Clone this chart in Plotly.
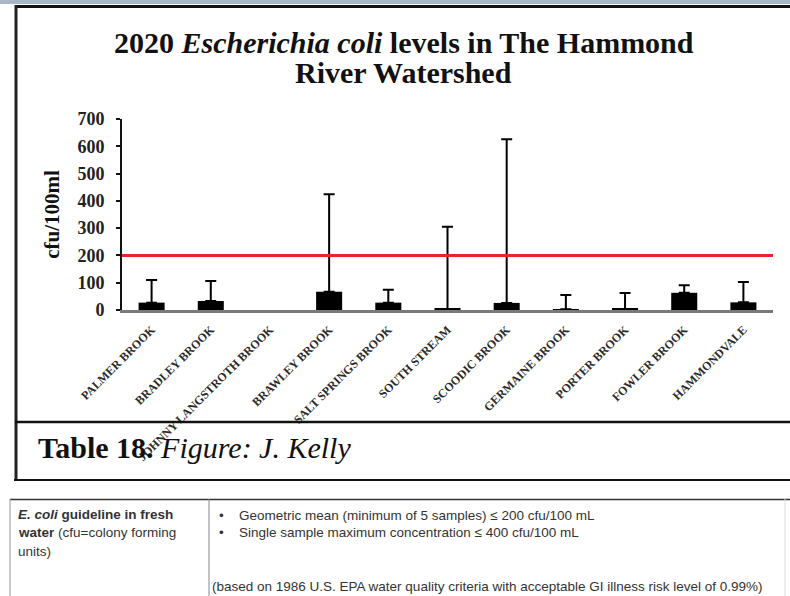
import plotly.graph_objects as go

W, H = 790, 596

# ---- data ----
sites = ["PALMER BROOK", "BRADLEY BROOK", "JOHNNY LANGSTROTH BROOK", "BRAWLEY BROOK",
         "SALT SPRINGS BROOK", "SOUTH STREAM", "SCOODIC BROOK", "GERMAINE BROOK",
         "PORTER BROOK", "FOWLER BROOK", "HAMMONDVALE"]
geo_mean = [27, 33, None, 67, 27, 4, 26, 3, 4, 63, 28]
max_val = [110, 106, None, 424, 74, 305, 626, 55, 62, 91, 103]
guideline = 200
y_ticks = [0, 100, 200, 300, 400, 500, 600, 700]

err_plus = [(m - g) if (m is not None and g is not None) else None for m, g in zip(max_val, geo_mean)]
err_minus = [0 if e is not None else None for e in err_plus]


def px(x):
    return x / W


def py(y):
    return 1 - y / H


fig = go.Figure()
fig.add_trace(go.Bar(
    x=sites, y=geo_mean,
    marker=dict(color="black", line=dict(width=0)),
    error_y=dict(type="data", symmetric=False, array=err_plus, arrayminus=err_minus,
                 color="black", thickness=2, width=5.5),
    showlegend=False,
))
# guideline line
fig.add_trace(go.Scatter(
    x=[-0.5, 10.5], y=[guideline, guideline], xaxis="x2", mode="lines",
    line=dict(color="#e8232a", width=3), showlegend=False, hoverinfo="skip",
))

serif = "Liberation Serif, Times New Roman, serif"
sans = "Liberation Sans Narrow, Arial Narrow, Liberation Sans, Arial, sans-serif"

fig.update_layout(
    width=W, height=H,
    margin=dict(l=0, r=0, t=0, b=0, autoexpand=False),
    paper_bgcolor="white", plot_bgcolor="white",
    bargap=0.56,
    xaxis=dict(domain=[px(122), px(773)], range=[-0.5, 10.5], showgrid=False, automargin=False,
               showline=True, linecolor="#7a7a7a", linewidth=3, ticks="",
               tickangle=-45, ticklabelstandoff=5,
               tickfont=dict(family=serif, size=12, color="#2a2a2a", weight="bold"), zeroline=False),
    xaxis2=dict(domain=[px(122), px(773)], range=[-0.5, 10.5], overlaying="x",
                visible=False, anchor="y", automargin=False),
    yaxis=dict(domain=[py(310), py(119)], range=[0, 700], tickvals=y_ticks, automargin=False,
               showgrid=False, zeroline=False, showline=True, linecolor="#111",
               linewidth=2, ticks="outside", ticklen=4, tickwidth=1.5, tickcolor="#111",
               ticklabelstandoff=8,
               tickfont=dict(family=serif, size=18, color="#222", weight="bold"),
               title=dict(text="<b>cfu/100ml</b>", font=dict(family=serif, size=21, color="#111"),
                          standoff=12)),
)

shapes = []
# top strip
shapes.append(dict(type="rect", xref="paper", yref="paper", x0=0, x1=1, y0=py(4), y1=1,
                   fillcolor="#aab6c6", line=dict(width=0), layer="below"))
# outer frame top and left
shapes.append(dict(type="line", xref="paper", yref="paper", x0=px(15), x1=1, y0=py(6.5), y1=py(6.5),
                   line=dict(color="#111", width=3)))
shapes.append(dict(type="line", xref="paper", yref="paper", x0=px(16), x1=px(16), y0=py(5), y1=py(480),
                   line=dict(color="#222", width=3)))
# caption box
shapes.append(dict(type="line", xref="paper", yref="paper", x0=px(15), x1=1, y0=py(422), y1=py(422),
                   line=dict(color="#111", width=2.5)))
shapes.append(dict(type="line", xref="paper", yref="paper", x0=px(14), x1=1, y0=py(480), y1=py(480),
                   line=dict(color="#111", width=2)))
# table
shapes.append(dict(type="line", xref="paper", yref="paper", x0=px(10), x1=1, y0=py(499.5), y1=py(499.5),
                   line=dict(color="#333", width=1.5)))
shapes.append(dict(type="line", xref="paper", yref="paper", x0=px(10), x1=px(10), y0=py(499), y1=0,
                   line=dict(color="#999", width=1)))
shapes.append(dict(type="line", xref="paper", yref="paper", x0=px(209), x1=px(209), y0=py(499), y1=0,
                   line=dict(color="#888", width=1)))
shapes.append(dict(type="line", xref="paper", yref="paper", x0=px(785), x1=px(785), y0=py(499), y1=0,
                   line=dict(color="#ddd", width=1)))
fig.update_layout(shapes=shapes)

ann = []
ann.append(dict(text="<b>2020 <i>Escherichia coli</i> levels in The Hammond</b>", x=px(404), y=py(43),
                xref="paper", yref="paper", showarrow=False, xanchor="center", yanchor="middle",
                font=dict(family=serif, size=30, color="#111")))
ann.append(dict(text="<b>River Watershed</b>", x=px(404), y=py(73),
                xref="paper", yref="paper", showarrow=False, xanchor="center", yanchor="middle",
                font=dict(family=serif, size=30, color="#111")))
ann.append(dict(text="<b>Table 18.</b> <i>Figure: J. Kelly</i>", x=px(36), y=py(447),
                xref="paper", yref="paper", showarrow=False, xanchor="left", yanchor="middle",
                font=dict(family=serif, size=30, color="#111")))
left_lines = ["<b><i>E. coli</i> guideline in fresh</b>", "<b>water</b> (cfu=colony forming", "units)"]
for i, t in enumerate(left_lines):
    ann.append(dict(text=t, x=px(16), y=py(514 + 18.5 * i), xref="paper", yref="paper",
                    showarrow=False, xanchor="left", yanchor="middle",
                    font=dict(family=sans, size=13.5, color="#333")))
bullets = ["Geometric mean (minimum of 5 samples) ≤ 200 cfu/100 mL",
           "Single sample maximum concentration ≤ 400 cfu/100 mL"]
for i, t in enumerate(bullets):
    ann.append(dict(text="•", x=px(217), y=py(515 + 17.5 * i), xref="paper", yref="paper",
                    showarrow=False, xanchor="left", yanchor="middle",
                    font=dict(family=sans, size=13.5, color="#333")))
    ann.append(dict(text=t, x=px(237), y=py(515 + 17.5 * i), xref="paper", yref="paper",
                    showarrow=False, xanchor="left", yanchor="middle",
                    font=dict(family=sans, size=13.5, color="#333")))
ann.append(dict(text="(based on 1986 U.S. EPA water quality criteria with acceptable GI illness risk level of 0.99%)",
                x=px(210), y=py(586), xref="paper", yref="paper", showarrow=False,
                xanchor="left", yanchor="middle", font=dict(family=sans, size=13.5, color="#333")))
fig.update_layout(annotations=ann)

fig.write_html("out.html", config={"displayModeBar": False},
               post_script="document.body.style.margin='0';document.body.style.overflow='hidden';")
